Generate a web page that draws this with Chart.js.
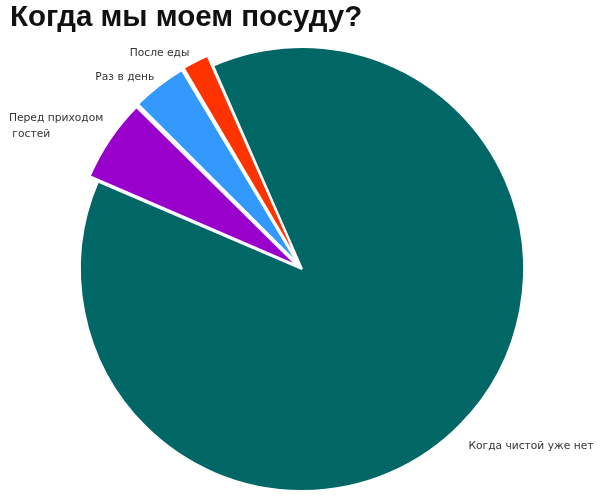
<!DOCTYPE html>
<html>
<head>
<meta charset="utf-8">
<script src="https://cdn.jsdelivr.net/npm/chart.js@4/dist/chart.umd.min.js"></script>
<style>
  html, body { margin: 0; padding: 0; background: #ffffff; }
  #wrap { width: 600px; height: 497px; position: relative; }
</style>
</head>
<body>
<div id="wrap"><canvas id="c"></canvas></div>
<script>
// ---- data ----
const titleText = 'Когда мы моем посуду?';
const categories = ['Когда чистой уже нет', 'Перед приходом\n гостей', 'Раз в день', 'После еды'];
const values = [88, 6, 4, 2];
const colors = ['#006666', '#9900CC', '#3399FF', '#FF3300'];

// ---- label layout (radial distance, alignment, nudge) ----
const labelLayout = [
  { r: 250, align: 'left',  dx: -11, dy: 1 },
  { r: 254, align: 'right', dx: 20,  dy: 5 },
  { r: 239, align: 'right', dx: 6,   dy: 5 },
  { r: 235, align: 'right', dx: 0,   dy: 3 }
];

// actual translation Chart.js v4 applies to an offset arc
function arcShift(arc, off) {
  const o = off / 4;
  const circ = arc.endAngle - arc.startAngle;
  const fix = 1 - Math.sin(Math.min(Math.PI, circ));
  return o + o * fix;
}

const outerLabels = {
  id: 'outerLabels',
  afterDatasetsDraw(chart) {
    const ctx = chart.ctx;
    const meta = chart.getDatasetMeta(0);
    const offsets = chart.data.datasets[0].offset;
    ctx.save();
    ctx.font = '10.7px "DejaVu Sans", Verdana, sans-serif';
    ctx.fillStyle = '#333333';
    ctx.textBaseline = 'middle';
    meta.data.forEach((arc, i) => {
      const mid = (arc.startAngle + arc.endAngle) / 2;
      const lay = labelLayout[i];
      const sh = arcShift(arc, offsets[i] || 0);
      const ax = arc.x + Math.cos(mid) * (sh + lay.r) + lay.dx;
      const ay = arc.y + Math.sin(mid) * (sh + lay.r) + lay.dy;
      const lines = chart.data.labels[i].split('\n');
      const lh = 16;
      const widths = lines.map(l => ctx.measureText(l).width);
      const maxW = Math.max(...widths);
      const left = lay.align === 'right' ? ax - maxW : ax;
      ctx.textAlign = 'left';
      lines.forEach((l, k) => {
        const y = ay + (k - (lines.length - 1) / 2) * lh;
        ctx.fillText(l, left, y);
      });
    });
    ctx.restore();
  }
};

new Chart(document.getElementById('c'), {
  type: 'pie',
  data: {
    labels: categories,
    datasets: [{
      data: values,
      backgroundColor: colors,
      borderColor: '#ffffff',
      borderWidth: 2,
      offset: [0, 24, 24, 24]
    }]
  },
  options: {
    responsive: true,
    maintainAspectRatio: false,
    animation: false,
    rotation: -23.6,
    radius: 222,
    layout: { padding: { left: 10, right: 6, top: 0, bottom: 0 } },
    plugins: {
      legend: { display: false },
      tooltip: { enabled: false },
      title: {
        display: true,
        text: titleText,
        align: 'start',
        color: '#111111',
        font: { family: '"Liberation Sans", Arial, sans-serif', size: 29.5, weight: 'bold', lineHeight: 1.2 },
        padding: { top: 0, bottom: 5.6 }
      }
    }
  },
  plugins: [outerLabels]
});
</script>
</body>
</html>
